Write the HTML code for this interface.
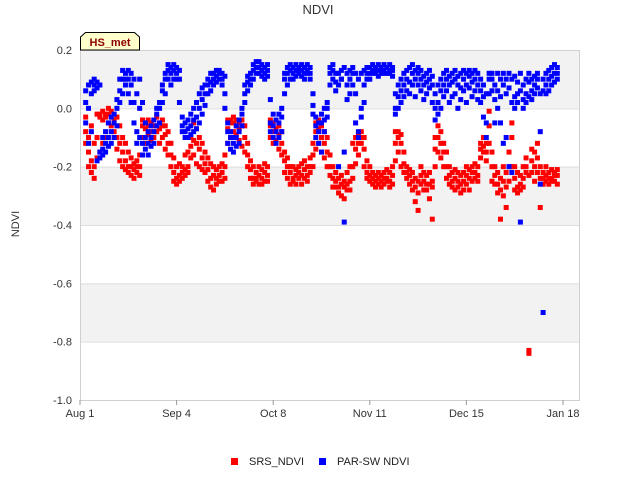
<!DOCTYPE html>
<html><head><meta charset="utf-8"><style>
body{margin:0;background:#fff;}
svg{display:block;font-family:"Liberation Sans",sans-serif;}
</style></head><body>
<svg id="chart" width="640" height="480" viewBox="0 0 640 480">
<text x="318" y="14" text-anchor="middle" font-size="13" fill="#333">NDVI</text>
<g id="bands"></g>
<g id="yaxis"></g>
<g id="xaxis"></g>
<text x="19" y="224" transform="rotate(-90 19 224)" text-anchor="middle" font-size="11" fill="#333">NDVI</text>
<g id="marks"></g>
<g>
<path d="M80.5,50 L80.5,37 L85.5,32.5 L134.5,32.5 L139.5,37 L139.5,50 Z" fill="#ffffcc" stroke="#000" stroke-width="1"/>
<text x="110" y="46" text-anchor="middle" font-size="11" font-weight="bold" fill="#8b0000">HS_met</text>
</g>
<g>
<g><rect x="231" y="458" width="7" height="7" fill="#f00"/><text x="249" y="465" font-size="11" fill="#222">SRS_NDVI</text></g>
<g><rect x="319" y="458" width="7" height="7" fill="#00f"/><text x="337" y="465" font-size="11" fill="#222">PAR-SW NDVI</text></g>
</g>
</svg>
<script>
const xTickLabels=["Aug 1","Sep 4","Oct 8","Nov 11","Dec 15","Jan 18"];
const xTickDays=[0,34,68,102,136,170];
const yTicks=[0.2,0.0,-0.2,-0.4,-0.6,-0.8,-1.0];
const startDay=2;
const srsNdvi=[
[-0.03,-0.08,-0.12],[-0.1,-0.15,-0.2],[-0.18,-0.22,-0.06],[-0.12,-0.2,-0.24],[-0.02,-0.17,-0.1],[-0.02,-0.03,-0.15],[-0.01,-0.04,-0.12],[-0.02,-0.03,-0.1],[0.0,-0.02,-0.05],[-0.01,-0.03,-0.06],
[-0.02,-0.04,-0.08],[-0.03,-0.1,-0.14],[-0.06,-0.12,-0.18],[-0.1,-0.15,-0.2],[-0.18,-0.21,-0.12],[-0.2,-0.22,-0.15],[-0.2,-0.23,-0.17],[-0.21,-0.24,-0.19],[-0.2,-0.22,-0.18],[-0.2,-0.23,-0.16],
[-0.04,-0.06,-0.1],[-0.05,-0.07,-0.12],[-0.04,-0.06,-0.09],[-0.05,-0.08,-0.11],[-0.04,-0.06,-0.1],[-0.03,-0.06,-0.08],[-0.05,-0.07,-0.12],[-0.04,-0.06,-0.1],[-0.06,-0.09,-0.14],[-0.08,-0.12,-0.16],
[-0.12,-0.16,-0.2],[-0.17,-0.22,-0.25],[-0.2,-0.24,-0.26],[-0.19,-0.23,-0.25],[-0.2,-0.22,-0.24],[-0.16,-0.21,-0.23],[-0.15,-0.2,-0.22],[-0.1,-0.13,-0.17],[-0.05,-0.11,-0.16],[-0.07,-0.12,-0.19],
[-0.1,-0.14,-0.2],[-0.12,-0.17,-0.21],[-0.15,-0.19,-0.22],[-0.17,-0.21,-0.25],[-0.19,-0.24,-0.27],[-0.2,-0.23,-0.28],[-0.21,-0.24,-0.26],[-0.2,-0.23,-0.25],[-0.19,-0.22,-0.25],[-0.16,-0.2,-0.24],
[-0.04,-0.07,-0.12],[-0.04,-0.05,-0.1],[-0.03,-0.05,-0.08],[-0.04,-0.06,-0.09],[-0.05,-0.07,-0.11],[-0.04,-0.06,-0.13],[-0.06,-0.1,-0.15],[-0.12,-0.16,-0.2],[-0.18,-0.21,-0.24],[-0.2,-0.24,-0.26],
[-0.22,-0.25,-0.24],[-0.2,-0.23,-0.26],[-0.21,-0.24,-0.26],[-0.19,-0.22,-0.25],[-0.2,-0.23,-0.25],[-0.04,-0.06,-0.1],[-0.05,-0.08,-0.12],[-0.04,-0.07,-0.11],[-0.06,-0.09,-0.14],[-0.08,-0.12,-0.16],
[-0.15,-0.18,-0.22],[-0.17,-0.2,-0.24],[-0.2,-0.22,-0.26],[-0.2,-0.24,-0.25],[-0.21,-0.23,-0.26],[-0.2,-0.22,-0.24],[-0.19,-0.23,-0.26],[-0.18,-0.21,-0.24],[-0.2,-0.23,-0.25],[-0.17,-0.2,-0.22],
[-0.12,-0.16,-0.2],[-0.05,-0.08,-0.14],[-0.04,-0.07,-0.12],[-0.06,-0.1,-0.15],[-0.08,-0.12,-0.17],[-0.1,-0.15,-0.2],[-0.16,-0.2,-0.23],[-0.2,-0.24,-0.27],[-0.22,-0.25,-0.27],[-0.24,-0.27,-0.29],
[-0.23,-0.26,-0.3],[-0.25,-0.27,-0.31],[-0.22,-0.26,-0.28],[-0.2,-0.25,-0.28],[-0.12,-0.2,-0.24],[-0.1,-0.14,-0.19],[-0.09,-0.12,-0.16],[-0.08,-0.1,-0.12],[-0.1,-0.14,-0.2],[-0.18,-0.22,-0.24],
[-0.2,-0.23,-0.25],[-0.22,-0.24,-0.26],[-0.23,-0.25,-0.27],[-0.22,-0.24,-0.26],[-0.23,-0.25,-0.27],[-0.22,-0.24,-0.26],[-0.21,-0.24,-0.25],[-0.22,-0.25,-0.27],[-0.2,-0.23,-0.26],[-0.08,-0.12,-0.18],
[-0.08,-0.1,-0.15],[-0.09,-0.12,-0.2],[-0.15,-0.19,-0.22],[-0.2,-0.22,-0.24],[-0.21,-0.23,-0.26],[-0.22,-0.25,-0.28],[-0.24,-0.27,-0.32],[-0.25,-0.29,-0.35],[-0.2,-0.23,-0.26],[-0.22,-0.25,-0.28],
[-0.23,-0.26,-0.28],[-0.22,-0.26,-0.31],[-0.25,-0.27,-0.38],[-0.1,-0.14,-0.2],[-0.06,-0.1,-0.15],[-0.08,-0.12,-0.17],[-0.12,-0.15,-0.2],[-0.15,-0.2,-0.24],[-0.2,-0.23,-0.26],[-0.22,-0.25,-0.27],
[-0.21,-0.24,-0.28],[-0.22,-0.25,-0.27],[-0.23,-0.26,-0.29],[-0.22,-0.25,-0.28],[-0.2,-0.23,-0.26],[-0.21,-0.24,-0.28],[-0.2,-0.22,-0.25],[-0.19,-0.22,-0.24],[-0.2,-0.23,-0.25],[-0.12,-0.14,-0.17],
[-0.1,-0.13,-0.15],[-0.12,-0.15,-0.18],[-0.01,-0.06,-0.12],[-0.15,-0.2,-0.25],[-0.2,-0.23,-0.26],[-0.22,-0.26,-0.29],[-0.24,-0.28,-0.38],[-0.2,-0.25,-0.3],[-0.22,-0.27,-0.34],[-0.15,-0.2,-0.25],
[-0.05,-0.1,-0.2],[-0.2,-0.24,-0.28],[-0.22,-0.27,-0.29],[-0.23,-0.26,-0.28],[-0.2,-0.24,-0.27],[-0.2,-0.22,-0.17],[-0.83,-0.84,-0.23],[-0.14,-0.18,-0.22],[-0.15,-0.2,-0.25],[-0.12,-0.17,-0.22],
[-0.2,-0.24,-0.34],[-0.22,-0.24,-0.26],[-0.2,-0.23,-0.25],[-0.22,-0.24,-0.26],[-0.21,-0.24,-0.25],[-0.22,-0.23,-0.25],[-0.21,-0.23,-0.26]];
const parNdvi=[
[0.06,0.02,-0.05],[0.08,0.0,-0.12],[0.09,0.05,-0.08],[0.1,0.08,0.06],[0.09,0.07,-0.18],[0.08,-0.15,-0.17],[-0.1,-0.14,-0.16],[-0.08,-0.12,-0.15],[-0.05,-0.1,-0.13],[-0.03,-0.08,-0.12],
[-0.02,-0.05,-0.1],[0.0,0.03,-0.06],[0.02,0.06,0.1],[0.05,0.1,0.13],[0.08,0.12,0.1],[0.1,0.05,0.13],[0.12,0.08,0.02],[0.1,0.02,-0.05],[0.05,-0.08,-0.12],[0.0,-0.1,0.1],
[-0.12,-0.16,0.02],[-0.1,-0.14,-0.05],[-0.08,-0.12,-0.16],[-0.06,-0.1,-0.13],[-0.04,-0.08,-0.12],[-0.02,-0.06,0.0],[0.0,0.02,-0.05],[0.02,0.06,0.08],[0.05,0.1,0.12],[0.1,0.13,0.15],
[0.12,0.14,0.08],[0.13,0.1,0.15],[0.12,0.14,0.1],[0.1,0.13,0.02],[-0.03,-0.06,-0.08],[-0.05,-0.08,-0.1],[-0.04,-0.07,-0.1],[-0.02,-0.06,-0.09],[0.0,-0.04,-0.08],[0.02,-0.03,-0.07],
[0.05,0.0,-0.05],[0.07,0.03,-0.02],[0.08,0.05,0.01],[0.1,0.08,0.05],[0.12,0.09,0.06],[0.1,0.12,0.08],[0.11,0.13,0.09],[0.12,0.1,0.13],[0.1,0.08,0.12],[0.11,0.05,0.0],
[-0.05,-0.08,-0.12],[-0.08,-0.1,-0.14],[-0.1,-0.12,-0.15],[-0.06,-0.1,-0.13],[-0.04,-0.08,-0.12],[-0.02,-0.06,0.0],[0.02,0.05,0.08],[0.06,0.09,0.11],[0.08,0.12,0.1],[0.1,0.13,0.15],
[0.12,0.14,0.16],[0.14,0.16,0.12],[0.13,0.15,0.11],[0.1,0.14,0.12],[0.11,0.13,0.15],[-0.05,-0.08,0.03],[-0.06,-0.1,-0.02],[-0.04,-0.08,-0.12],[-0.02,-0.05,-0.1],[0.0,-0.03,-0.08],
[0.05,0.1,0.12],[0.08,0.12,0.14],[0.1,0.13,0.15],[0.12,0.14,0.1],[0.13,0.15,0.11],[0.12,0.14,0.13],[0.11,0.13,0.15],[0.12,0.14,0.1],[0.13,0.15,0.12],[0.1,0.12,0.14],
[0.05,0.01,-0.02],[-0.03,-0.06,-0.1],[-0.05,-0.08,-0.12],[-0.02,-0.05,-0.15],[0.0,-0.04,-0.08],[0.02,0.0,-0.03],[0.08,0.12,0.14],[0.1,0.13,0.15],[0.09,0.12,0.06],[-0.2,0.12,0.08],
[0.1,0.1,0.13],[-0.39,0.14,-0.15],[0.12,0.08,0.03],[0.1,0.13,0.05],[0.08,0.12,0.14],[-0.05,0.05,0.12],[-0.08,-0.1,0.1],[0.0,-0.03,0.12],[0.02,0.08,0.13],[0.1,0.14,0.12],
[0.12,0.14,0.1],[0.13,0.15,0.12],[0.12,0.14,0.13],[0.13,0.15,0.11],[0.12,0.14,0.13],[0.13,0.15,0.12],[0.12,0.14,0.14],[0.13,0.15,0.12],[0.11,0.14,0.13],[0.05,0.0,-0.02],
[0.08,0.04,0.0],[0.1,0.06,0.02],[0.12,0.08,0.04],[0.13,0.1,0.06],[0.14,0.09,0.05],[0.12,0.08,0.15],[0.1,0.13,0.04],[0.12,0.08,0.14],[0.1,0.13,0.06],[0.11,0.08,0.03],
[0.12,0.09,0.05],[0.1,0.13,0.07],[0.11,0.08,0.02],[0.05,0.0,-0.04],[0.02,-0.02,0.08],[0.06,0.1,0.0],[0.08,0.12,0.04],[0.1,0.13,0.06],[0.11,0.08,0.02],[0.12,0.09,0.04],
[0.1,0.13,0.05],[0.11,0.08,0.0],[0.12,0.07,0.03],[0.13,0.1,0.06],[0.12,0.08,0.02],[0.11,0.13,0.07],[0.12,0.09,0.04],[0.1,0.13,0.06],[0.12,0.08,0.03],[0.1,0.06,0.02],
[0.08,0.04,-0.03],[0.05,-0.05,-0.1],[0.12,0.1,0.05],[0.1,0.12,0.06],[0.08,0.03,-0.05],[0.12,0.06,0.0],[0.1,0.04,-0.05],[0.12,0.08,-0.12],[0.1,0.05,-0.1],[0.12,0.07,-0.2],
[0.1,0.02,-0.22],[0.11,0.04,0.0],[0.09,0.05,0.02],[-0.39,0.12,0.06],[0.08,0.03,0.0],[0.1,0.05,0.02],[0.12,0.09,0.04],[0.1,0.06,0.03],[0.11,0.08,0.05],[0.12,0.1,0.07],
[0.05,-0.08,-0.26],[-0.7,0.1,0.06],[0.12,0.08,0.05],[0.13,0.1,0.06],[0.14,0.11,0.08],[0.15,0.12,0.09],[0.14,0.12,0.1]];

const NS="http://www.w3.org/2000/svg";
const X0=80,X1=580,Y0=50,Y1=400,DAYS=170,XEND=563;
function xScale(d){return X0+d*(XEND-X0)/DAYS;}
function yScale(v){return Y0+(0.2-v)*(Y1-Y0)/1.2;}
function mk(tag,attrs,parent){const e=document.createElementNS(NS,tag);for(const k in attrs)e.setAttribute(k,attrs[k]);parent.appendChild(e);return e;}

const bands=document.getElementById('bands');
for(let i=0;i<yTicks.length-1;i++){
  const r=mk('rect',{x:X0,y:yScale(yTicks[i]),width:X1-X0,height:yScale(yTicks[i+1])-yScale(yTicks[i]),fill:i%2===0?'#f2f2f2':'#ffffff'},bands);
  
  
}
const ya=document.getElementById('yaxis');
yTicks.forEach(v=>{
  const l=mk('line',{x1:X0,x2:X1,y1:yScale(v)+0.5,y2:yScale(v)+0.5,stroke:'#dddddd','stroke-width':1},ya);
  
  
  const t=mk('text',{x:72,y:yScale(v)+4,'text-anchor':'end','font-size':11,fill:'#333'},ya);
  t.textContent=v.toFixed(1);
  
  
});
mk('rect',{x:X0+0.5,y:Y0+0.5,width:X1-X0-1,height:Y1-Y0,fill:'none',stroke:'#d0d0d0'},ya);
const xa=document.getElementById('xaxis');
xTickDays.forEach((d,i)=>{
  const x=xScale(d);
  mk('line',{x1:x,x2:x,y1:Y1,y2:Y1+5,stroke:'#999'},xa);
  const t=mk('text',{x:x,y:417,'text-anchor':'middle','font-size':11,fill:'#333'},xa);
  t.textContent=xTickLabels[i];
  
  
});
const marks=document.getElementById('marks');
function drawSeries(data,color,name){
  data.forEach((vals,i)=>{
    const d=startDay+i;
    vals.forEach(v=>{
      const r=mk('rect',{x:xScale(d)-2.5,y:yScale(v)-2.5,width:5,height:5,fill:color},marks);
      
      
    });
  });
}
drawSeries(srsNdvi,'#ff0000','srs-ndvi-point');
drawSeries(parNdvi,'#0000ff','par-sw-ndvi-point');
</script>
</body></html>
